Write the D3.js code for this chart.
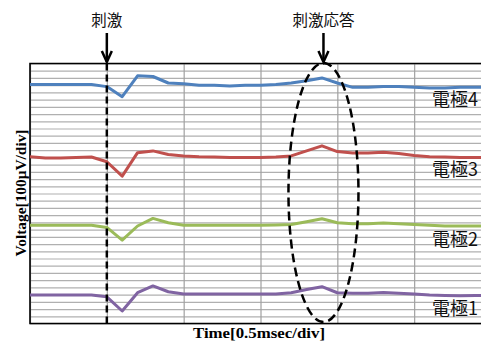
<!DOCTYPE html>
<html><head><meta charset="utf-8">
<script src="https://cdn.jsdelivr.net/npm/d3@7"></script>
<style>html,body{margin:0;padding:0;background:#fff;overflow:hidden}</style>
</head><body>
<svg id="c" width="481" height="342"></svg>
<script>
// Data (x index: 0..30, each 1/5 of a 0.5 msec division; y in grid units)
const seriesNames = ["電極4", "電極3", "電極2", "電極1"];
const electrode4 = [33.1,33.1,33.1,33.1,33.1,32.8,31.4,34.3,34.2,33.3,33.2,33.0,33.0,32.9,33.0,33.0,33.1,33.3,33.6,34.0,33.3,32.7,32.7,32.8,32.8,32.7,32.6,32.6,32.7,32.7,32.7];
const electrode3 = [23.1,22.9,22.9,23.0,23.05,22.4,20.4,23.65,23.9,23.4,23.2,23.1,23.05,23.0,23.0,23.0,23.05,23.2,23.9,24.6,23.8,23.6,23.6,23.7,23.55,23.25,23.1,23.05,23.0,23.0,23.0];
const electrode2 = [13.6,13.6,13.6,13.6,13.6,13.3,11.55,13.5,14.55,13.95,13.6,13.6,13.6,13.6,13.6,13.6,13.65,13.7,14.1,14.5,13.95,13.8,13.8,13.9,13.8,13.7,13.6,13.5,13.5,13.5,13.5];
const electrode1 = [3.95,3.95,3.95,3.95,3.95,3.7,1.73,4.26,5.2,4.4,4.08,4.08,4.08,4.08,4.08,4.08,4.08,4.26,4.7,5.1,4.26,4.18,4.2,4.3,4.2,4.08,3.95,3.88,3.85,3.88,3.9];
const seriesValues = [electrode4, electrode3, electrode2, electrode1];
const stimulusX = 5;        // stimulus time index
const responseX = 19;       // response peak time index
const xTicks = d3.range(0, 31, 5);
const yTicks = d3.range(0, 37, 1);
const annotations = ["刺激", "刺激応答"];
const xTitle = "Time[0.5msec/div]";
const yTitle = "Voltage[100μV/div]";

const colors = ["#4F81BD", "#C0504D", "#9BBB59", "#8064A2"];
const svg = d3.select("#c");
const L = 30, R = 491, T = 63.5, B = 323.5;
const x = d3.scaleLinear().domain([0, 30]).range([L, R]);
const y = d3.scaleLinear().domain([0, 36]).range([B, T]);

// horizontal grid
svg.append("g").attr("transform", `translate(${L},0)`)
  .call(d3.axisLeft(y).tickValues(yTicks).tickSize(-(R - L)).tickFormat(""))
  .call(g => g.select(".domain").remove())
  .call(g => g.selectAll("line").attr("stroke", "#b0b0b0").attr("stroke-width", 1.2));
// vertical grid
svg.append("g").attr("transform", `translate(0,${B})`)
  .call(d3.axisBottom(x).tickValues(xTicks).tickSize(-(B - T)).tickFormat(""))
  .call(g => g.select(".domain").remove())
  .call(g => g.selectAll("line").attr("stroke", "#a0a0a0").attr("stroke-width", 1.2));

// border
svg.append("path").attr("d", `M${R},${T}H${L}V${B}H${R}`)
  .attr("fill", "none").attr("stroke", "#000").attr("stroke-width", 1.6);

// series
const line = d3.line().x((d, i) => x(i)).y(d => y(d));
seriesValues.forEach((vals, k) => {
  svg.append("path").datum(vals).attr("d", line)
    .attr("fill", "none").attr("stroke", colors[k]).attr("stroke-width", 3)
    .attr("stroke-linejoin", "round");
});

// series labels
const labelY = [106, 176, 246, 315];
seriesNames.forEach((n, k) => {
  svg.append("text").attr("x", 432).attr("y", labelY[k]).text(n)
    .attr("font-family", "'Noto Sans CJK JP', sans-serif").attr("font-size", 18).attr("fill", "#111");
});

// stimulus dashed line
svg.append("line").attr("x1", x(stimulusX)).attr("x2", x(stimulusX)).attr("y1", T).attr("y2", B)
  .attr("stroke", "#000").attr("stroke-width", 2.5).attr("stroke-dasharray", "7,4");

// response ellipse
svg.append("ellipse").attr("cx", x(responseX) + 1.5).attr("cy", (T + B) / 2 - 1)
  .attr("rx", 35).attr("ry", 129.5)
  .attr("fill", "none").attr("stroke", "#000").attr("stroke-width", 2.5).attr("stroke-dasharray", "9,5");

// annotations with arrows
[[x(stimulusX), annotations[0]], [x(responseX) + 1.5, annotations[1]]].forEach(([ax, t]) => {
  svg.append("text").attr("x", ax).attr("y", 26).attr("text-anchor", "middle").text(t)
    .attr("font-family", "'Noto Sans CJK JP', sans-serif").attr("font-size", 15.5).attr("fill", "#111");
  svg.append("line").attr("x1", ax).attr("x2", ax).attr("y1", 33).attr("y2", 62)
    .attr("stroke", "#000").attr("stroke-width", 2.5);
  svg.append("path").attr("d", `M${ax - 5},${51}L${ax},${62}L${ax + 5},${51}`)
    .attr("fill", "none").attr("stroke", "#000").attr("stroke-width", 2.5);
});

// axis titles
svg.append("text").attr("x", 193).attr("y", 338).text(xTitle)
  .attr("textLength", 132).attr("lengthAdjust", "spacingAndGlyphs")
  .attr("font-family", "'Liberation Serif', serif").attr("font-weight", "bold").attr("font-size", 15);
svg.append("text").attr("transform", `translate(26,${(T + B) / 2 + 63}) rotate(-90)`).text(yTitle)
  .attr("textLength", 127).attr("lengthAdjust", "spacingAndGlyphs")
  .attr("font-family", "'Liberation Serif', serif").attr("font-weight", "bold").attr("font-size", 14.5);
</script>
</body></html>
